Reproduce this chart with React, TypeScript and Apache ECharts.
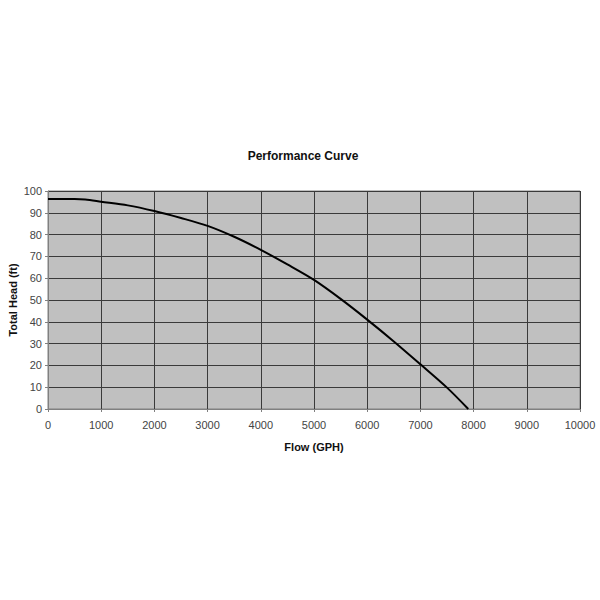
import React, { useEffect, useRef } from "react";
import * as echarts from "echarts";

const flowGph = [0, 500, 700, 1000, 1500, 2000, 2500, 3000, 3500, 4000, 4500, 5000, 5500, 6000, 6500, 7000, 7500, 7900];
const totalHeadFt = [96.3, 96.3, 96.1, 95.1, 93.4, 90.8, 87.6, 84, 79, 73, 66.3, 59.2, 50.5, 41, 31, 20.5, 9.8, 0];
const chartTitle = "Performance Curve";
const xAxisName = "Flow (GPH)";
const yAxisName = "Total Head (ft)";

export default function App() {
  const ref = useRef<HTMLDivElement>(null);
  useEffect(() => {
    if (!ref.current) return;
    const chart = echarts.init(ref.current, null, { renderer: "svg" });
    const font = "Liberation Sans, Arial, sans-serif";
    chart.setOption({
      animation: false,
      backgroundColor: "#ffffff",
      title: {
        text: chartTitle,
        left: 298,
        top: 145,
        textAlign: "center",
        textStyle: { fontFamily: font, fontSize: 12, fontWeight: "bold", color: "#111" },
      },
      grid: {
        left: 48, right: 20, top: 191, bottom: 191,
        containLabel: false, outerBoundsMode: "none",
        show: true, backgroundColor: "#c0c0c0", borderColor: "#808080", borderWidth: 1,
      },
      graphic: [
        {
          type: "text",
          x: 13,
          y: 300,
          rotation: Math.PI / 2,
          style: {
            text: yAxisName,
            align: "center",
            verticalAlign: "middle",
            fontFamily: font,
            fontSize: 11,
            fontWeight: "bold",
            fill: "#111",
          },
        },
      ],
      xAxis: {
        type: "value",
        min: 0,
        max: 10000,
        interval: 1000,
        name: xAxisName,
        nameLocation: "middle",
        nameGap: 32,
        nameTextStyle: { fontFamily: font, fontSize: 11, fontWeight: "bold", color: "#111" },
        axisLine: { lineStyle: { color: "#808080" } },
        axisTick: { show: true, length: 3, lineStyle: { color: "#808080" } },
        axisLabel: { fontFamily: font, fontSize: 11, color: "#444", margin: 10, formatter: (v: number) => String(v) },
        splitLine: { lineStyle: { color: "#3a3a3a", width: 1 } },
      },
      yAxis: {
        type: "value",
        min: 0,
        max: 100,
        interval: 10,
        axisLine: { show: true, lineStyle: { color: "#808080" } },
        axisTick: { show: true, length: 3, lineStyle: { color: "#808080" } },
        axisLabel: { fontFamily: font, fontSize: 11, color: "#444", margin: 6, formatter: (v: number) => String(v) },
        splitLine: { lineStyle: { color: "#3a3a3a", width: 1 } },
      },
      series: [
        {
          type: "line",
          data: flowGph.map((x, i) => [x, totalHeadFt[i]]),
          smooth: 0.3,
          showSymbol: false,
          lineStyle: { color: "#000", width: 2 },
        },
      ],
    });
    return () => chart.dispose();
  }, []);
  return <div ref={ref} style={{ width: 600, height: 600, position: "absolute", left: 0, top: 0 }} />;
}
